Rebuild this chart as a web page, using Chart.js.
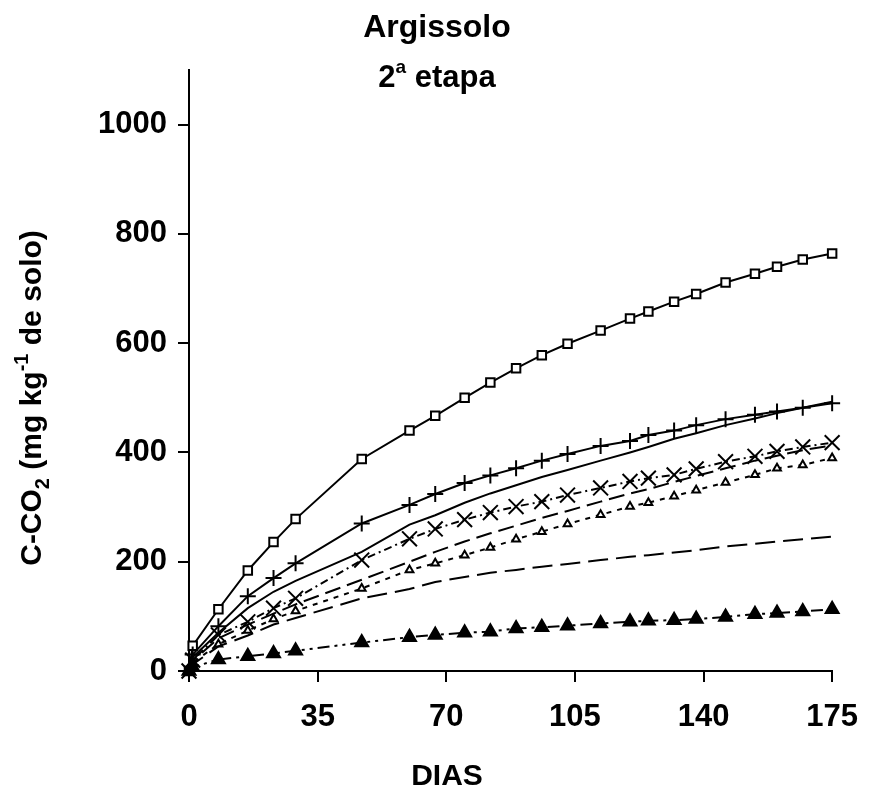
<!DOCTYPE html>
<html><head><meta charset="utf-8">
<script src="https://cdn.jsdelivr.net/npm/chart.js@4.4.0/dist/chart.umd.min.js"></script>
<style>html,body{margin:0;padding:0;background:#fff;}#wrap{width:875px;height:793px;}</style>
</head><body><div id="wrap"><canvas id="c" width="875" height="793"></canvas></div>
<script>
const FONT = '"Liberation Sans", Arial, Helvetica, sans-serif';
const days = [0,1,8,16,23,29,47,60,67,75,82,89,96,103,112,120,125,132,138,146,154,160,167,175];
const seriesSquare   = [0,46,113,184,236,278,388,440,467,500,528,554,578,599,623,645,658,676,690,711,727,740,753,764];
const seriesPlus     = [0,30,82,137,170,197,270,304,324,344,358,371,385,397,412,421,432,440,450,461,469,475,482,490];
const seriesSolid    = [0,25,70,115,145,165,218,268,285,308,325,340,355,368,385,400,410,425,435,450,462,472,482,493];
const seriesCross    = [0,20,66,90,115,133,203,242,260,277,290,301,310,322,335,347,353,359,370,383,393,402,410,418];
const seriesDashHigh = [0,18,60,85,105,122,167,200,218,237,252,266,280,293,310,325,333,346,357,371,385,394,404,413];
const seriesOpenTri  = [0,15,49,74,95,110,151,185,197,212,226,241,255,269,286,301,308,320,331,345,359,371,377,390];
const seriesDashLow  = [0,12,45,65,85,97,133,150,163,172,180,185,191,196,203,209,212,217,221,228,233,237,241,246];
const seriesFillTri  = [0,7,21,27,32,37,52,62,66,70,72,78,80,83,87,90,92,93,95,99,104,106,109,113];
const xTicks = [0,35,70,105,140,175];
const yTicks = [0,200,400,600,800,1000];

function pts(arr){ return days.map((d,i)=>({x:d,y:arr[i]})); }
function ds(arr, style, opts){
  return Object.assign({
    data: pts(arr), borderColor:'#000', backgroundColor:'#fff', borderWidth:2,
    pointStyle: style || 'circle', pointRadius: style ? 6 : 0, pointBorderWidth:2,
    pointBorderColor:'#000', pointBackgroundColor:'#fff', tension:0, clip:false, fill:false
  }, opts||{});
}

function drawRich(ctx, segs, cx, cy, rot){
  ctx.save();
  ctx.translate(cx, cy);
  ctx.rotate(rot);
  let total = 0;
  segs.forEach(s=>{ ctx.font = 'bold '+s.size+'px '+FONT; s.w = ctx.measureText(s.t).width; total += s.w; });
  let x = -total/2;
  ctx.textAlign='left'; ctx.textBaseline='alphabetic'; ctx.fillStyle='#000';
  segs.forEach(s=>{ ctx.font = 'bold '+s.size+'px '+FONT; ctx.fillText(s.t, x, s.dy||0); x += s.w; });
  ctx.restore();
}

const textPlugin = {
  id:'texts',
  afterDraw(chart){
    const ctx = chart.ctx;
    drawRich(ctx,[{t:'Argissolo',size:32}], 437, 37, 0);
    drawRich(ctx,[{t:'2',size:31},{t:'a',size:19,dy:-14},{t:' etapa',size:31}], 437, 87, 0);
    drawRich(ctx,[{t:'DIAS',size:30}], 447, 785, 0);
    drawRich(ctx,[{t:'C-CO',size:30},{t:'2',size:20,dy:8},{t:' (mg kg',size:30},{t:'-1',size:20,dy:-13},{t:' de solo)',size:30}], 41, 398, -Math.PI/2);
  }
};

new Chart(document.getElementById('c'), {
  type:'line',
  data:{ datasets:[
    ds(seriesDashLow, null, {borderDash:[20,8]}),
    ds(seriesFillTri, 'triangle', {borderDash:[12,5,3,5,3,5], pointRadius:7.5, pointBackgroundColor:'#000'}),
    ds(seriesOpenTri, 'triangle', {borderDash:[5,6], pointRadius:4.5}),
    ds(seriesDashHigh, null, {borderDash:[16,7]}),
    ds(seriesCross, 'crossRot', {borderDash:[8,4,2,4], pointRadius:10.5}),
    ds(seriesSolid, null, {}),
    ds(seriesPlus, 'cross', {pointRadius:8}),
    ds(seriesSquare, 'rect', {pointRadius:6})
  ]},
  options:{
    responsive:false, animation:false, devicePixelRatio:1,
    layout:{padding:{top:70,right:39,bottom:0,left:0}},
    plugins:{legend:{display:false}, tooltip:{enabled:false}, title:{display:false}},
    elements:{line:{borderCapStyle:'butt'}},
    scales:{
      x:{ type:'linear', min:0, max:175,
        afterBuildTicks(s){ s.ticks = xTicks.map(v=>({value:v})); },
        afterFit(s){ s.height = 122; },
        border:{display:true,color:'#000',width:2},
        grid:{display:true,drawOnChartArea:false,drawTicks:true,tickLength:11,color:'#000',lineWidth:2},
        ticks:{color:'#000',padding:17,font:{family:FONT,size:31,weight:'bold'},maxRotation:0,autoSkip:false,callback:v=>String(v)}
      },
      y:{ type:'linear', min:0, max:1100,
        afterBuildTicks(s){ s.ticks = yTicks.map(v=>({value:v})); },
        afterFit(s){ s.width = 189; },
        border:{display:true,color:'#000',width:2},
        grid:{display:true,drawOnChartArea:false,drawTicks:true,tickLength:11,color:'#000',lineWidth:2},
        ticks:{color:'#000',padding:11,font:{family:FONT,size:31,weight:'bold'},autoSkip:false,callback:v=>String(v)}
      }
    }
  },
  plugins:[textPlugin]
});
</script></body></html>
